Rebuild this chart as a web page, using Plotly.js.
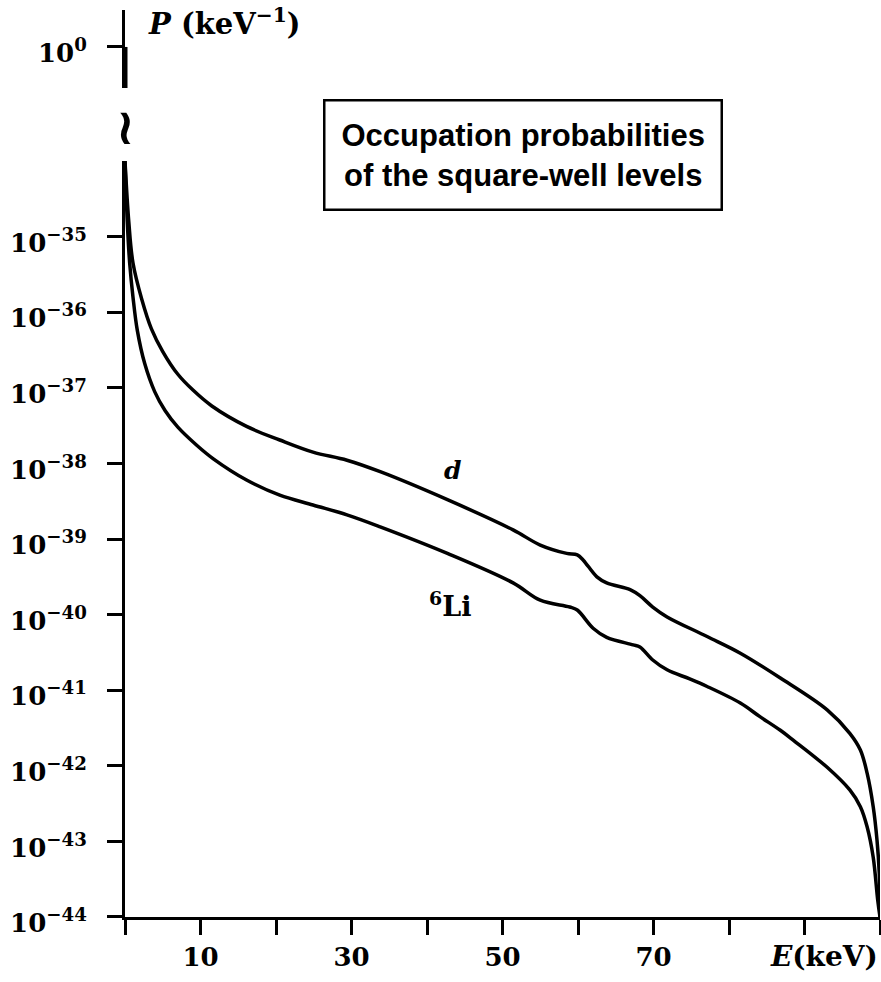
<!DOCTYPE html>
<html>
<head>
<meta charset="utf-8">
<script src="https://cdn.plot.ly/plotly-3.0.1.min.js"></script>
<style>html,body{margin:0;padding:0;background:#fff;}#chart{width:881px;height:982px;}</style>
</head>
<body>
<div id="chart"></div>
<script>
// Energy grid (keV) and occupation probabilities P (keV^-1), deuteron (d)
var E_d = [0, 0.5, 1.06, 2.2, 3.5, 5.0, 7.0, 9.0, 11.5, 16.1, 20.5, 24.9, 29.4, 33.8, 42.7, 51.4, 55.0, 58.5, 59.9, 60.7, 62.5, 63.8, 66.9, 68.2, 69.9, 71.8, 77.1, 81.5, 86.8, 93.0, 96.0, 97.4, 98.3, 99.1, 99.6, 99.9, 100];
var P_d = [1.0e-34, 1.58e-35, 4.47e-36, 1.51e-36, 6.03e-37, 3.02e-37, 1.51e-37, 9.33e-38, 5.75e-38, 3.09e-38, 2.04e-38, 1.41e-38, 1.10e-38, 7.76e-39, 3.31e-39, 1.32e-39, 8.32e-40, 6.46e-40, 6.17e-40, 5.25e-40, 3.16e-40, 2.63e-40, 2.14e-40, 1.78e-40, 1.26e-40, 9.33e-41, 5.13e-41, 3.09e-41, 1.45e-41, 5.50e-42, 2.69e-42, 1.62e-42, 7.94e-43, 2.88e-43, 1.05e-43, 3.80e-44, 1.0e-44];

// 6Li
var E_li = [0, 0.3, 0.62, 1.06, 1.63, 2.61, 3.93, 5.3, 7.0, 9.5, 11.7, 16.1, 20.5, 24.9, 29.4, 33.8, 42.7, 51.4, 55.0, 58.9, 59.9, 62.0, 63.8, 67.3, 68.2, 69.9, 71.8, 74.8, 77.1, 81.5, 84.1, 86.8, 88.5, 93.0, 96.0, 97.4, 98.3, 99.1, 99.7, 100];
var P_li = [1.0e-34, 1.58e-35, 4.47e-36, 1.58e-36, 5.75e-37, 2.09e-37, 8.91e-38, 5.01e-38, 3.02e-38, 1.74e-38, 1.15e-38, 6.03e-39, 3.80e-39, 2.82e-39, 2.09e-39, 1.45e-39, 6.46e-40, 2.63e-40, 1.55e-40, 1.26e-40, 1.15e-40, 6.61e-41, 5.01e-41, 3.98e-41, 3.72e-41, 2.51e-41, 1.86e-41, 1.41e-41, 1.12e-41, 6.76e-42, 4.47e-42, 2.95e-42, 2.19e-42, 9.55e-43, 4.79e-43, 2.88e-43, 1.55e-43, 6.17e-44, 1.66e-44, 1.0e-44];

// Top (broken-axis) segment: curves start near P = 1 at E = 0
var E_top = [0, 0];
var P_top = [1, 0.1];

// Tick labels
var xTickVals = [0, 10, 20, 30, 40, 50, 60, 70, 80, 90, 100];
var xTickText = ['', '10', '', '30', '', '50', '', '70', '', '', ''];
var yTickExp = [-44, -43, -42, -41, -40, -39, -38, -37, -36, -35];
var yTickVals = yTickExp.map(function (e) { return Math.pow(10, e); });
var yTickText = yTickExp.map(function (e) { return '10<sup>\u2212' + Math.abs(e) + '</sup>'; });
var y2TickVals = [1];
var y2TickText = ['10<sup>0</sup>'];

var serif = 'DejaVu Serif';
var lineStyle = {color: '#000', width: 3.5, shape: 'spline', smoothing: 1.0};

var traces = [
  {x: E_d, y: P_d, mode: 'lines', line: lineStyle, xaxis: 'x', yaxis: 'y', hoverinfo: 'skip'},
  {x: E_li, y: P_li, mode: 'lines', line: lineStyle, xaxis: 'x', yaxis: 'y', hoverinfo: 'skip'},
  {x: E_top, y: P_top, mode: 'lines', line: {color: '#000', width: 5}, xaxis: 'x', yaxis: 'y2', hoverinfo: 'skip'}
];

function axisCommon() {
  return {
    showline: true, linecolor: '#000', linewidth: 3,
    ticks: 'outside', ticklen: 15, tickwidth: 3, tickcolor: '#000',
    showgrid: false, zeroline: false, fixedrange: true,
    tickfont: {family: serif, size: 26, color: '#000', weight: 'bold'}
  };
}

var layout = {
  width: 881, height: 982,
  margin: {l: 125, r: 1, t: 10, b: 65},
  paper_bgcolor: '#fff', plot_bgcolor: '#fff',
  showlegend: false,
  xaxis: Object.assign(axisCommon(), {
    range: [0, 100], tickmode: 'array', tickvals: xTickVals, ticktext: xTickText
  }),
  yaxis: Object.assign(axisCommon(), {
    type: 'log', range: [-44, -34], domain: [0, 0.8335],
    tickmode: 'array', tickvals: yTickVals, ticktext: yTickText,
    ticklabelstandoff: 15, ticklabelshift: 6
  }),
  yaxis2: Object.assign(axisCommon(), {
    type: 'log', range: [-1, 0.9], domain: [0.914, 1], anchor: 'x',
    tickmode: 'array', tickvals: y2TickVals, ticktext: y2TickText,
    ticklabelstandoff: 15, ticklabelshift: 6
  }),
  annotations: [
    {xref: 'paper', yref: 'paper', x: 0.028, y: 0.987, xanchor: 'left', yanchor: 'middle', showarrow: false,
     text: '<b><i>P</i> (keV<sup>\u22121</sup>)</b>', font: {family: serif, size: 29, color: '#000'}},
    {xref: 'paper', yref: 'paper', x: 0, y: 0.871, xanchor: 'center', yanchor: 'middle', showarrow: false,
     text: '\u2240', font: {family: 'DejaVu Sans', size: 50, color: '#000', weight: 'bold'}},
    {xref: 'paper', yref: 'paper', x: 0.527, y: 0.840, xanchor: 'center', yanchor: 'middle', showarrow: false,
     text: '<b>Occupation probabilities<br>of the square-well levels</b>',
     font: {family: 'Liberation Sans', size: 31, color: '#000'},
     bordercolor: '#000', borderwidth: 2.5, borderpad: 16, bgcolor: '#fff', align: 'center'},
    {xref: 'x', yref: 'y', x: 43.4, y: -38.10, xanchor: 'center', yanchor: 'middle', showarrow: false,
     text: '<b><i>d</i></b>', font: {family: serif, size: 25, color: '#000'}},
    {xref: 'x', yref: 'y', x: 43.0, y: -39.87, xanchor: 'center', yanchor: 'middle', showarrow: false,
     text: '<b><sup>6</sup>Li</b>', font: {family: serif, size: 27, color: '#000'}},
    {xref: 'paper', yref: 'paper', x: 1, y: -0.044, xanchor: 'right', yanchor: 'middle', showarrow: false,
     text: '<b><i>E</i>(keV)</b>', font: {family: serif, size: 28, color: '#000'}}
  ]
};

Plotly.newPlot('chart', traces, layout, {displayModeBar: false, staticPlot: true});
</script>
</body>
</html>
